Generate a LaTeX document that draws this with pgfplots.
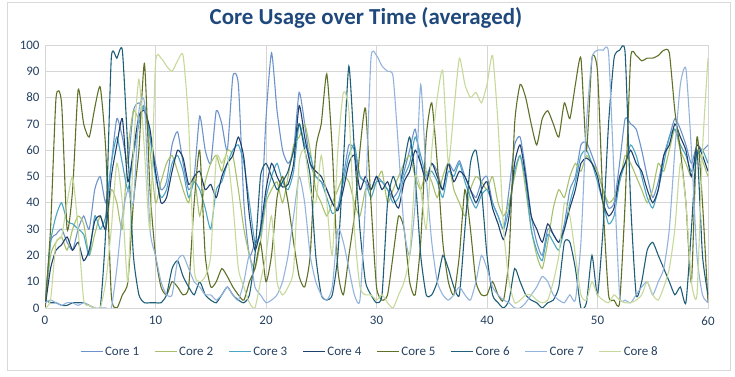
\documentclass[border=0pt]{standalone}
\usepackage{fontspec}
\setmainfont{Carlito}
\usepackage{pgfplots}
\pgfplotsset{compat=1.18}
\definecolor{c1}{HTML}{6C93CB}
\definecolor{c2}{HTML}{A8C06C}
\definecolor{c3}{HTML}{4AA6C4}
\definecolor{c4}{HTML}{1F3F6E}
\definecolor{c5}{HTML}{5F7128}
\definecolor{c6}{HTML}{1E5E78}
\definecolor{c7}{HTML}{93B3DC}
\definecolor{c8}{HTML}{C6D99A}
\definecolor{gridc}{HTML}{D6D6D6}
\definecolor{framec}{HTML}{D9D9D9}
\definecolor{titlec}{HTML}{1F497D}
\definecolor{tickc}{HTML}{254061}
\begin{document}
\begin{tikzpicture}
\useasboundingbox (-45bp,-69bp) rectangle (690bp,308bp);
\draw[framec, line width=0.8pt] (-38bp,-62bp) rectangle (685bp,306bp);
\node[font=\fontsize{23}{26}\selectfont\bfseries, text=titlec] at (321bp,290bp) {Core Usage over Time (averaged)};
\begin{axis}[
  at={(0,0)}, anchor=south west,
  width=663bp, height=263bp, scale only axis,
  xmin=0, xmax=60, ymin=0, ymax=100,
  xtick={0,10,...,60}, ytick={0,10,...,100},
  grid=major, grid style={draw=gridc, line width=0.6pt},
  axis line style={draw=gridc, line width=0.6pt},
  major tick length=0pt,
  tick label style={font=\fontsize{13}{15}\selectfont, text=tickc},
  /pgf/number format/assume math mode=true,
  xticklabel style={yshift=-5bp},
  yticklabel style={xshift=-2bp},
  every axis plot/.append style={line width=1.1pt, smooth, tension=0.35, no markers},
  legend columns=8,
  legend style={at={(0.49,-0.167)}, anchor=center, draw=none, fill=none, font=\fontsize{13}{15}\selectfont, text=tickc, /tikz/every even column/.append style={column sep=13bp}},
  legend image code/.code={\draw[#1, line width=1.1pt] (0bp,0bp) -- (22bp,0bp);},
]
\addplot[c1] coordinates {(0,0)(0.5,25)(1,28)(1.5,30)(2,25)(2.5,22)(3,30)(3.5,35)(4,30)(4.5,45)
(5,50)(5.5,40)(6,55)(6.5,72)(7,65)(7.5,55)(8,75)(8.5,78)(9,75)(9.5,65)
(10,55)(10.5,45)(11,48)(11.5,62)(12,67)(12.5,55)(13,45)(13.5,50)(14,73)(14.5,60)
(15,55)(15.5,75)(16,70)(16.5,60)(17,88)(17.5,85)(18,40)(18.5,20)(19,25)(19.5,30)
(20,72)(20.5,97)(21,75)(21.5,60)(22,55)(22.5,60)(23,82)(23.5,70)(24,55)(24.5,50)
(25,48)(25.5,45)(26,40)(26.5,38)(27,50)(27.5,62)(28,60)(28.5,50)(29,48)(29.5,45)
(30,50)(30.5,48)(31,45)(31.5,42)(32,45)(32.5,52)(33,60)(33.5,68)(34,55)(34.5,50)
(35,55)(35.5,52)(36,45)(36.5,55)(37,52)(37.5,56)(38,50)(38.5,45)(39,42)(39.5,48)
(40,50)(40.5,40)(41,35)(41.5,30)(42,45)(42.5,62)(43,65)(43.5,52)(44,35)(44.5,25)
(45,20)(45.5,30)(46,28)(46.5,25)(47,32)(47.5,45)(48,50)(48.5,62)(49,63)(49.5,58)
(50,52)(50.5,45)(51,38)(51.5,40)(52,55)(52.5,72)(53,70)(53.5,68)(54,60)(54.5,50)
(55,42)(55.5,48)(56,58)(56.5,65)(57,72)(57.5,68)(58,62)(58.5,55)(59,62)(59.5,60)(60,62)};
\addlegendentry{Core 1}
\addplot[c2] coordinates {(0,0)(0.5,20)(1,25)(1.5,27)(2,22)(2.5,30)(3,35)(3.5,32)(4,20)(4.5,28)
(5,35)(5.5,30)(6,45)(6.5,40)(7,30)(7.5,60)(8,75)(8.5,72)(9,77)(9.5,60)
(10,40)(10.5,48)(11,55)(11.5,58)(12,52)(12.5,45)(13,40)(13.5,50)(14,35)(14.5,48)
(15,55)(15.5,58)(16,52)(16.5,60)(17,58)(17.5,45)(18,30)(18.5,20)(19,15)(19.5,25)
(20,40)(20.5,45)(21,48)(21.5,40)(22,50)(22.5,62)(23,65)(23.5,70)(24,60)(24.5,45)
(25,40)(25.5,35)(26,40)(26.5,45)(27,50)(27.5,48)(28,40)(28.5,35)(29,45)(29.5,45)
(30,48)(30.5,52)(31,40)(31.5,45)(32,50)(32.5,55)(33,58)(33.5,50)(34,45)(34.5,52)
(35,48)(35.5,42)(36,50)(36.5,55)(37,45)(37.5,40)(38,35)(38.5,45)(39,50)(39.5,48)
(40,45)(40.5,50)(41,40)(41.5,35)(42,40)(42.5,50)(43,58)(43.5,45)(44,30)(44.5,20)
(45,15)(45.5,25)(46,38)(46.5,45)(47,42)(47.5,50)(48,55)(48.5,52)(49,58)(49.5,55)
(50,52)(50.5,45)(51,40)(51.5,42)(52,48)(52.5,58)(53,55)(53.5,50)(54,45)(54.5,40)
(55,45)(55.5,55)(56,52)(56.5,60)(57,68)(57.5,60)(58,55)(58.5,50)(59,60)(59.5,56)(60,50)};
\addlegendentry{Core 2}
\addplot[c3] coordinates {(0,0)(0.5,25)(1,35)(1.5,40)(2,33)(2.5,32)(3,30)(3.5,28)(4,20)(4.5,35)
(5,30)(5.5,35)(6,55)(6.5,65)(7,55)(7.5,45)(8,58)(8.5,70)(9,77)(9.5,65)
(10,50)(10.5,42)(11,45)(11.5,55)(12,58)(12.5,52)(13,42)(13.5,48)(14,45)(14.5,38)
(15,30)(15.5,45)(16,48)(16.5,55)(17,60)(17.5,62)(18,55)(18.5,40)(19,25)(19.5,28)
(20,42)(20.5,50)(21,55)(21.5,48)(22,45)(22.5,52)(23,70)(23.5,62)(24,58)(24.5,50)
(25,48)(25.5,42)(26,36)(26.5,38)(27,48)(27.5,58)(28,62)(28.5,50)(29,48)(29.5,42)
(30,48)(30.5,48)(31,45)(31.5,40)(32,42)(32.5,50)(33,55)(33.5,65)(34,58)(34.5,50)
(35,52)(35.5,48)(36,42)(36.5,52)(37,50)(37.5,55)(38,48)(38.5,42)(39,38)(39.5,43)
(40,45)(40.5,40)(41,35)(41.5,30)(42,38)(42.5,52)(43,58)(43.5,48)(44,30)(44.5,22)
(45,18)(45.5,28)(46,25)(46.5,22)(47,30)(47.5,40)(48,48)(48.5,58)(49,60)(49.5,55)
(50,48)(50.5,40)(51,32)(51.5,35)(52,48)(52.5,55)(53,62)(53.5,58)(54,50)(54.5,42)
(55,38)(55.5,45)(56,55)(56.5,65)(57,68)(57.5,62)(58,58)(58.5,52)(59,58)(59.5,60)(60,55)};
\addlegendentry{Core 3}
\addplot[c4] coordinates {(0,0)(0.5,15)(1,22)(1.5,24)(2,27)(2.5,22)(3,25)(3.5,18)(4,22)(4.5,33)
(5,35)(5.5,30)(6,50)(6.5,62)(7,72)(7.5,48)(8,60)(8.5,73)(9,75)(9.5,68)
(10,52)(10.5,40)(11,42)(11.5,52)(12,60)(12.5,57)(13,47)(13.5,50)(14,52)(14.5,45)
(15,47)(15.5,42)(16,50)(16.5,55)(17,58)(17.5,65)(18,57)(18.5,35)(19,22)(19.5,30)
(20,45)(20.5,55)(21,50)(21.5,46)(22,47)(22.5,55)(23,77)(23.5,65)(24,55)(24.5,52)
(25,50)(25.5,45)(26,40)(26.5,37)(27,45)(27.5,55)(28,58)(28.5,45)(29,50)(29.5,45)
(30,50)(30.5,45)(31,48)(31.5,42)(32,38)(32.5,48)(33,52)(33.5,60)(34,55)(34.5,48)
(35,55)(35.5,50)(36,45)(36.5,55)(37,48)(37.5,52)(38,50)(38.5,45)(39,40)(39.5,45)
(40,48)(40.5,38)(41,32)(41.5,26)(42,35)(42.5,55)(43,62)(43.5,50)(44,35)(44.5,30)
(45,25)(45.5,32)(46,28)(46.5,25)(47,30)(47.5,38)(48,45)(48.5,55)(49,57)(49.5,55)
(50,50)(50.5,40)(51,35)(51.5,38)(52,50)(52.5,55)(53,60)(53.5,55)(54,52)(54.5,45)
(55,40)(55.5,45)(56,58)(56.5,62)(57,70)(57.5,65)(58,60)(58.5,50)(59,62)(59.5,58)(60,52)};
\addlegendentry{Core 4}
\addplot[c5] coordinates {(0,0)(0.5,30)(1,80)(1.5,78)(2,30)(2.5,45)(3,83)(3.5,70)(4,65)(4.5,76)
(5,84)(5.5,60)(6,5)(6.5,0)(7,5)(7.5,10)(8,40)(8.5,60)(9,93)(9.5,45)
(10,20)(10.5,8)(11,5)(11.5,10)(12,8)(12.5,5)(13,8)(13.5,40)(14,60)(14.5,20)
(15,8)(15.5,10)(16,15)(16.5,12)(17,8)(17.5,5)(18,3)(18.5,10)(19,15)(19.5,25)
(20,10)(20.5,20)(21,42)(21.5,50)(22,40)(22.5,25)(23,12)(23.5,8)(24,20)(24.5,60)
(25,70)(25.5,89)(26,60)(26.5,15)(27,5)(27.5,20)(28,35)(28.5,60)(29,76)(29.5,40)
(30,8)(30.5,3)(31,5)(31.5,20)(32,35)(32.5,30)(33,10)(33.5,5)(34,25)(34.5,65)
(35,78)(35.5,55)(36,25)(36.5,10)(37,5)(37.5,20)(38,45)(38.5,30)(39,10)(39.5,5)
(40,5)(40.5,10)(41,5)(41.5,3)(42,20)(42.5,70)(43,85)(43.5,80)(44,70)(44.5,62)
(45,72)(45.5,75)(46,70)(46.5,65)(47,78)(47.5,72)(48,85)(48.5,95)(49,60)(49.5,95)
(50,90)(50.5,40)(51,5)(51.5,3)(52,2)(52.5,40)(53,95)(53.5,96)(54,94)(54.5,95)
(55,95)(55.5,96)(56,98)(56.5,97)(57,75)(57.5,60)(58,40)(58.5,10)(59,65)(59.5,40)(60,2)};
\addlegendentry{Core 5}
\addplot[c6] coordinates {(0,3)(0.5,2)(1,2)(1.5,1)(2,1)(2.5,2)(3,2)(3.5,2)(4,1)(4.5,0)
(5,0)(5.5,30)(6,95)(6.5,95)(7,98)(7.5,60)(8,20)(8.5,5)(9,2)(9.5,2)
(10,2)(10.5,2)(11,5)(11.5,15)(12,18)(12.5,12)(13,8)(13.5,5)(14,10)(14.5,5)
(15,3)(15.5,2)(16,5)(16.5,8)(17,5)(17.5,3)(18,2)(18.5,5)(19,20)(19.5,50)
(20,55)(20.5,50)(21,45)(21.5,48)(22,52)(22.5,60)(23,70)(23.5,60)(24,50)(24.5,20)
(25,5)(25.5,3)(26,5)(26.5,20)(27,55)(27.5,92)(28,60)(28.5,30)(29,10)(29.5,5)
(30,2)(30.5,5)(31,40)(31.5,50)(32,45)(32.5,55)(33,65)(33.5,50)(34,20)(34.5,5)
(35,5)(35.5,10)(36,20)(36.5,15)(37,8)(37.5,5)(38,30)(38.5,55)(39,60)(39.5,45)
(40,20)(40.5,5)(41,2)(41.5,0)(42,3)(42.5,15)(43,10)(43.5,5)(44,3)(44.5,2)
(45,0)(45.5,2)(46,3)(46.5,8)(47,25)(47.5,25)(48,15)(48.5,0)(49,2)(49.5,20)
(50,5)(50.5,30)(51,70)(51.5,95)(52,98)(52.5,97)(53,40)(53.5,5)(54,10)(54.5,22)
(55,25)(55.5,20)(56,15)(56.5,10)(57,5)(57.5,8)(58,2)(58.5,30)(59,60)(59.5,20)(60,5)};
\addlegendentry{Core 6}
\addplot[c7] coordinates {(0,2)(0.5,3)(1,2)(1.5,1)(2,2)(2.5,2)(3,1)(3.5,2)(4,1)(4.5,0)
(5,0)(5.5,0)(6,0)(6.5,15)(7,35)(7.5,45)(8,40)(8.5,75)(9,78)(9.5,30)
(10,20)(10.5,10)(11,5)(11.5,5)(12,18)(12.5,20)(13,15)(13.5,10)(14,8)(14.5,5)
(15,5)(15.5,3)(16,5)(16.5,8)(17,5)(17.5,3)(18,10)(18.5,20)(19,8)(19.5,5)
(20,2)(20.5,3)(21,5)(21.5,10)(22,20)(22.5,35)(23,50)(23.5,40)(24,20)(24.5,10)
(25,5)(25.5,3)(26,8)(26.5,30)(27,25)(27.5,15)(28,5)(28.5,3)(29,40)(29.5,95)
(30,96)(30.5,92)(31,90)(31.5,88)(32,60)(32.5,30)(33,20)(33.5,40)(34,85)(34.5,50)
(35,25)(35.5,10)(36,5)(36.5,3)(37,5)(37.5,8)(38,5)(38.5,3)(39,10)(39.5,20)
(40,15)(40.5,8)(41,5)(41.5,3)(42,2)(42.5,0)(43,0)(43.5,2)(44,5)(44.5,8)
(45,12)(45.5,10)(46,5)(46.5,3)(47,2)(47.5,5)(48,3)(48.5,25)(49,70)(49.5,95)
(50,98)(50.5,98)(51,97)(51.5,50)(52,5)(52.5,3)(53,2)(53.5,5)(54,8)(54.5,10)
(55,5)(55.5,10)(56,15)(56.5,30)(57,60)(57.5,85)(58,91)(58.5,60)(59,20)(59.5,5)(60,2)};
\addlegendentry{Core 7}
\addplot[c8] coordinates {(0,0)(0.5,3)(1,25)(1.5,27)(2,40)(2.5,50)(3,30)(3.5,3)(4,1)(4.5,0)
(5,0)(5.5,10)(6,30)(6.5,55)(7,40)(7.5,10)(8,60)(8.5,87)(9,60)(9.5,30)
(10,93)(10.5,95)(11,92)(11.5,90)(12,94)(12.5,96)(13,70)(13.5,15)(14,10)(14.5,12)
(15,20)(15.5,57)(16,55)(16.5,58)(17,40)(17.5,15)(18,8)(18.5,2)(19,0)(19.5,10)
(20,20)(20.5,35)(21,10)(21.5,5)(22,8)(22.5,15)(23,55)(23.5,60)(24,45)(24.5,40)
(25,58)(25.5,40)(26,20)(26.5,60)(27,82)(27.5,75)(28,30)(28.5,8)(29,5)(29.5,5)
(30,3)(30.5,5)(31,2)(31.5,0)(32,5)(32.5,10)(33,20)(33.5,50)(34,45)(34.5,30)
(35,60)(35.5,80)(36,90)(36.5,55)(37,75)(37.5,95)(38,85)(38.5,80)(39,82)(39.5,78)
(40,85)(40.5,96)(41,70)(41.5,30)(42,10)(42.5,2)(43,3)(43.5,5)(44,5)(44.5,3)
(45,2)(45.5,3)(46,10)(46.5,20)(47,40)(47.5,35)(48,20)(48.5,5)(49,3)(49.5,10)
(50,5)(50.5,3)(51,2)(51.5,5)(52,3)(52.5,2)(53,2)(53.5,3)(54,5)(54.5,10)
(55,5)(55.5,3)(56,8)(56.5,15)(57,30)(57.5,55)(58,40)(58.5,10)(59,5)(59.5,60)(60,95)};
\addlegendentry{Core 8}
\end{axis}
\end{tikzpicture}
\end{document}
